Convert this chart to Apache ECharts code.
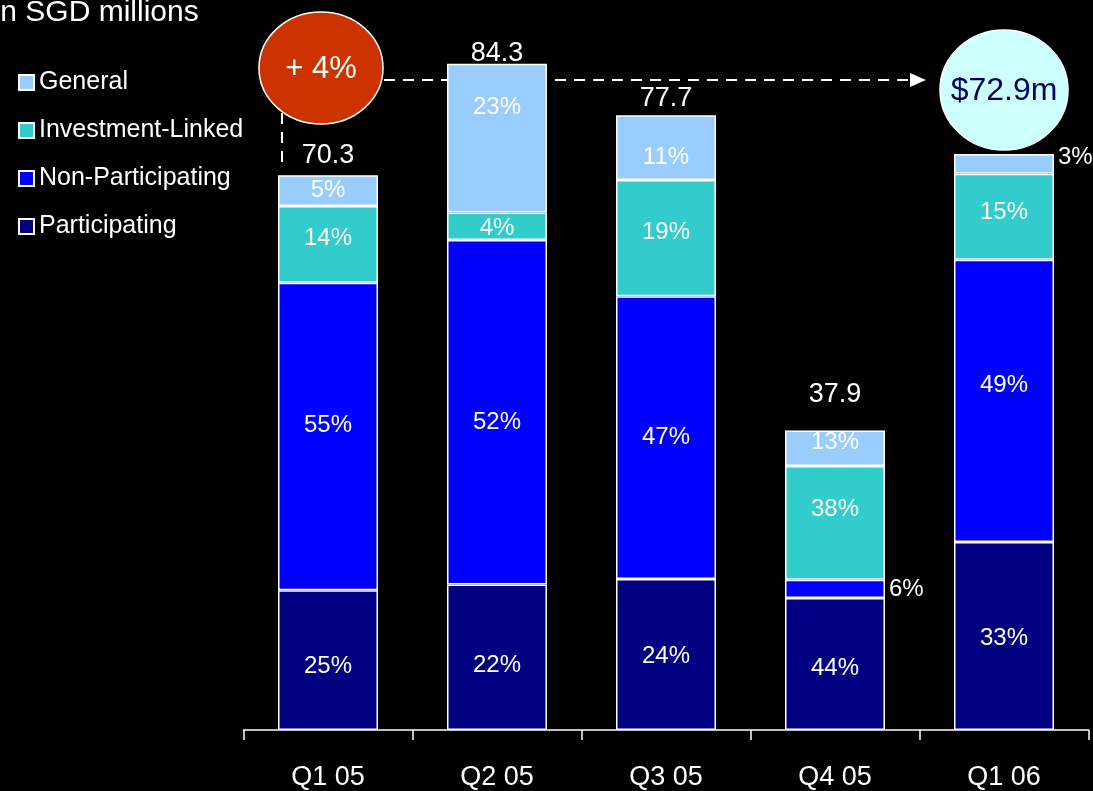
<!DOCTYPE html>
<html>
<head>
<meta charset="utf-8">
<script src="https://cdn.jsdelivr.net/npm/echarts@6/dist/echarts.min.js"></script>
<style>
html,body{margin:0;padding:0;background:#000;}
#c{width:1093px;height:791px;}
</style>
</head>
<body>
<div id="c"></div>
<script>
// ---- data ----
var categories = ['Q1 05', 'Q2 05', 'Q3 05', 'Q4 05', 'Q1 06'];
var totals = [70.3, 84.3, 77.7, 37.9, 72.9];
var participating = [17.7, 18.4, 19.1, 16.7, 23.8];
var nonParticipating = [38.9, 43.6, 35.8, 2.3, 35.7];
var investmentLinked = [9.7, 3.5, 14.7, 14.4, 10.9];
var general = [3.9, 18.8, 8.2, 4.5, 2.5];
var pctParticipating = ['25%', '22%', '24%', '44%', '33%'];
var pctNonParticipating = ['55%', '52%', '47%', '6%', '49%'];
var pctInvestmentLinked = ['14%', '4%', '19%', '38%', '15%'];
var pctGeneral = ['5%', '23%', '11%', '13%', '3%'];
var growthText = '+ 4%';

// ---- layout tweaks (not data) ----
var FONT = "'Liberation Sans', Arial, sans-serif";
var outsideLabel = { 'Non-Participating': [3], 'General': [4] };
var labelShift = {
  'Participating': [6, 8, 2, 4, 2],
  'Non-Participating': [-11, 10, 0, 0, -15],
  'Investment-Linked': [-6, 2, -6, -14, -4],
  'General': [0, -31, 10, -6, -6]
};
var totalDist = [5, -4, 3, 22, 0];

function makeSeries(name, values, pcts, color) {
  return {
    name: name,
    type: 'bar',
    stack: 'total',
    barWidth: 100,
    itemStyle: { color: color, borderColor: '#ffffff', borderWidth: 1.5 },
    data: values.map(function (v, i) {
      var isOut = (outsideLabel[name] || []).indexOf(i) >= 0;
      return {
        value: v,
        label: {
          show: true,
          formatter: pcts[i],
          position: isOut ? 'right' : 'inside',
          distance: 4,
          offset: [0, labelShift[name][i]],
          color: '#ffffff',
          fontSize: 24,
          fontFamily: FONT
        }
      };
    })
  };
}

var chart = echarts.init(document.getElementById('c'), null, { renderer: 'canvas' });

var option = {
  backgroundColor: '#000000',
  animation: false,
  grid: { left: 243.5, right: 4.5, top: 3, bottom: 61 },
  legend: {
    orient: 'vertical',
    left: 13,
    top: 65,
    itemWidth: 15,
    itemHeight: 15,
    itemGap: 23,
    icon: 'rect',
    data: ['General', 'Investment-Linked', 'Non-Participating', 'Participating'],
    textStyle: { color: '#ffffff', fontSize: 25, fontFamily: FONT }
  },
  xAxis: {
    type: 'category',
    data: categories,
    axisLine: { lineStyle: { color: '#ffffff', width: 1.5 } },
    axisTick: { show: true, length: 10, inside: false, lineStyle: { color: '#ffffff', width: 1.5 } },
    axisLabel: { color: '#ffffff', fontSize: 27, fontFamily: FONT, margin: 34 }
  },
  yAxis: {
    type: 'value',
    min: 0,
    max: 92,
    show: false,
    splitLine: { show: false }
  },
  series: [
    makeSeries('Participating', participating, pctParticipating, '#000080'),
    makeSeries('Non-Participating', nonParticipating, pctNonParticipating, '#0000FF'),
    makeSeries('Investment-Linked', investmentLinked, pctInvestmentLinked, '#33CCCC'),
    makeSeries('General', general, pctGeneral, '#99CCFF'),
    {
      name: 'Total',
      type: 'scatter',
      symbolSize: 1,
      itemStyle: { color: 'rgba(0,0,0,0)', opacity: 1 },
      silent: true,
      data: totals.map(function (t, i) {
        return {
          value: [categories[i], t],
          label: {
            show: i < totals.length - 1,
            position: 'top',
            distance: totalDist[i],
            formatter: t.toFixed(1),
            color: '#ffffff',
            fontSize: 27,
            fontFamily: FONT
          }
        };
      })
    }
  ],
  graphic: [
    {
      type: 'text',
      style: { text: 'In SGD millions', x: -8, y: 13, verticalAlign: 'middle', fill: '#ffffff', font: '30px ' + FONT }
    },
    {
      type: 'line',
      shape: { x1: 384, y1: 80, x2: 914, y2: 80 },
      style: { stroke: '#ffffff', lineWidth: 2, lineDash: [11, 8] }
    },
    {
      type: 'polygon',
      shape: { points: [[910, 73], [926, 80], [910, 87]] },
      style: { fill: '#ffffff' }
    },
    {
      type: 'line',
      shape: { x1: 282, y1: 113, x2: 282, y2: 165 },
      style: { stroke: '#ffffff', lineWidth: 2, lineDash: [11, 8] }
    },
    {
      type: 'ellipse',
      shape: { cx: 321, cy: 68, rx: 62, ry: 56 },
      style: { fill: '#CC3300', stroke: '#ffffff', lineWidth: 1.5 }
    },
    {
      type: 'text',
      style: { text: growthText, x: 321, y: 69, align: 'center', verticalAlign: 'middle', fill: '#ffffff', font: '31px ' + FONT }
    },
    {
      type: 'ellipse',
      shape: { cx: 1004, cy: 90, rx: 64, ry: 60 },
      style: { fill: '#CCFFFF', stroke: '#ffffff', lineWidth: 1.5 }
    },
    {
      type: 'text',
      style: { text: '$' + totals[totals.length - 1].toFixed(1) + 'm', x: 1004, y: 91, align: 'center', verticalAlign: 'middle', fill: '#000066', font: '32px ' + FONT }
    }
  ]
};

chart.setOption(option);
</script>
</body>
</html>
